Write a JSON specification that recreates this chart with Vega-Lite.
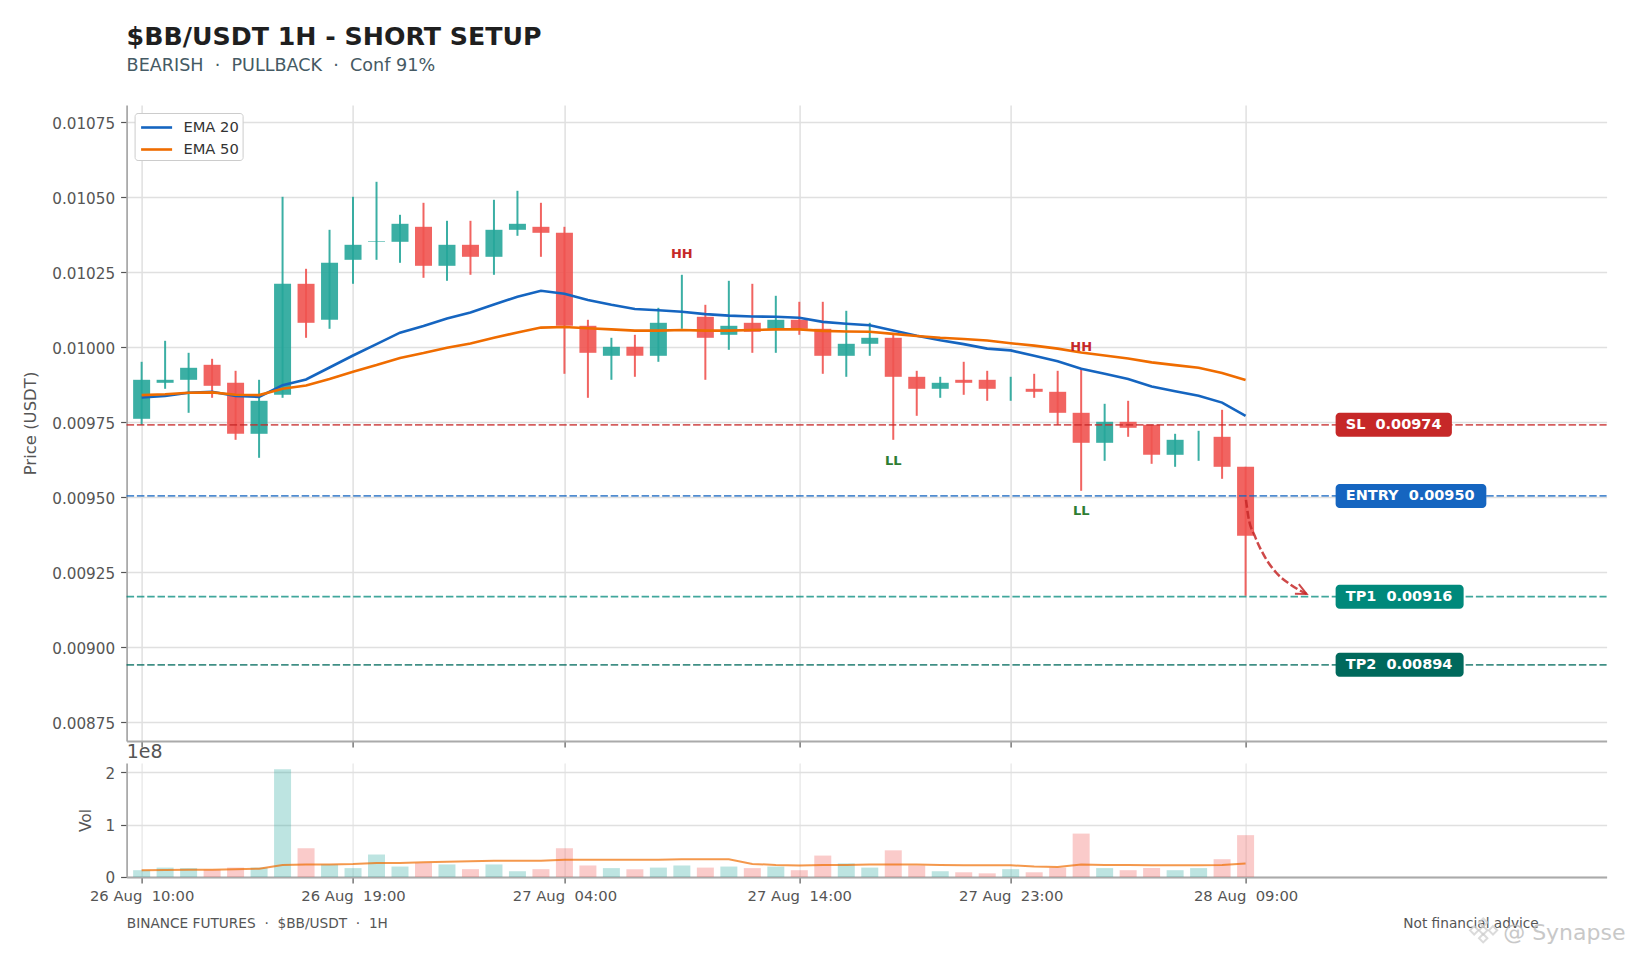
{"$schema":"https://vega.github.io/schema/vega-lite/v6.json","background":"white","padding":{"left":22.6,"top":25,"right":20,"bottom":4},"spacing":22,"bounds":"flush","title":{"text":"$BB/USDT 1H - SHORT SETUP","subtitle":"BEARISH \u00a0·\u00a0 PULLBACK \u00a0·\u00a0 Conf 91%","anchor":"start","frame":"group","font":"DejaVu Sans","fontSize":25.3,"fontWeight":"bold","color":"#1f1f1f","subtitleFont":"DejaVu Sans","subtitleFontSize":17.6,"subtitleColor":"#455a64","subtitlePadding":7,"offset":30},"config":{"font":"DejaVu Sans","view":{"stroke":null},"axis":{"gridColor":"#e0e0e0","gridWidth":1.5,"domainColor":"#aaaaaa","domainWidth":1.8,"tickColor":"#555555","tickSize":6,"tickWidth":1.2,"labelColor":"#555555","titleColor":"#555555","labelFontSize":14.8,"titleFontWeight":"normal"}},"datasets":{"c":[{"t":"2025-08-26T10:00:00Z","open":0.00976,"high":0.00995,"low":0.00974,"close":0.00989,"vol":13000000,"ema20":0.009831,"ema50":0.009839,"volma":13000000,"dir":"up"},{"t":"2025-08-26T11:00:00Z","open":0.00988,"high":0.01002,"low":0.00986,"close":0.00989,"vol":18000000,"ema20":0.009836,"ema50":0.009842,"volma":13500000,"dir":"up"},{"t":"2025-08-26T12:00:00Z","open":0.00989,"high":0.00998,"low":0.00978,"close":0.00993,"vol":17000000,"ema20":0.009847,"ema50":0.009847,"volma":14000000,"dir":"up"},{"t":"2025-08-26T13:00:00Z","open":0.00994,"high":0.00996,"low":0.00983,"close":0.00987,"vol":14000000,"ema20":0.00985,"ema50":0.009848,"volma":14000000,"dir":"down"},{"t":"2025-08-26T14:00:00Z","open":0.00988,"high":0.00992,"low":0.00969,"close":0.00971,"vol":18000000,"ema20":0.009836,"ema50":0.00984,"volma":15000000,"dir":"down"},{"t":"2025-08-26T15:00:00Z","open":0.00971,"high":0.00989,"low":0.00963,"close":0.00982,"vol":18000000,"ema20":0.009833,"ema50":0.009839,"volma":16000000,"dir":"up"},{"t":"2025-08-26T16:00:00Z","open":0.00984,"high":0.0105,"low":0.00983,"close":0.01021,"vol":206000000,"ema20":0.009872,"ema50":0.00986,"volma":23000000,"dir":"up"},{"t":"2025-08-26T17:00:00Z","open":0.01021,"high":0.01026,"low":0.01003,"close":0.01008,"vol":55000000,"ema20":0.009891,"ema50":0.009871,"volma":24000000,"dir":"down"},{"t":"2025-08-26T18:00:00Z","open":0.01009,"high":0.01039,"low":0.01006,"close":0.01028,"vol":24000000,"ema20":0.009931,"ema50":0.009893,"volma":24000000,"dir":"up"},{"t":"2025-08-26T19:00:00Z","open":0.01029,"high":0.0105,"low":0.01021,"close":0.01034,"vol":17000000,"ema20":0.009971,"ema50":0.009917,"volma":25000000,"dir":"up"},{"t":"2025-08-26T20:00:00Z","open":0.01035,"high":0.01055,"low":0.01029,"close":0.010352,"vol":43000000,"ema20":0.010009,"ema50":0.009939,"volma":27000000,"dir":"up"},{"t":"2025-08-26T21:00:00Z","open":0.01035,"high":0.01044,"low":0.01028,"close":0.01041,"vol":20000000,"ema20":0.010047,"ema50":0.009963,"volma":27000000,"dir":"up"},{"t":"2025-08-26T22:00:00Z","open":0.0104,"high":0.01048,"low":0.01023,"close":0.01027,"vol":27000000,"ema20":0.010069,"ema50":0.009979,"volma":28000000,"dir":"down"},{"t":"2025-08-26T23:00:00Z","open":0.01027,"high":0.01042,"low":0.01022,"close":0.01034,"vol":24000000,"ema20":0.010094,"ema50":0.009997,"volma":29000000,"dir":"up"},{"t":"2025-08-27T00:00:00Z","open":0.01034,"high":0.01042,"low":0.01024,"close":0.0103,"vol":15000000,"ema20":0.010114,"ema50":0.010011,"volma":30000000,"dir":"down"},{"t":"2025-08-27T01:00:00Z","open":0.0103,"high":0.01049,"low":0.01024,"close":0.01039,"vol":24000000,"ema20":0.010141,"ema50":0.01003,"volma":31000000,"dir":"up"},{"t":"2025-08-27T02:00:00Z","open":0.01039,"high":0.01052,"low":0.01037,"close":0.01041,"vol":11000000,"ema20":0.010167,"ema50":0.010048,"volma":31000000,"dir":"up"},{"t":"2025-08-27T03:00:00Z","open":0.0104,"high":0.01048,"low":0.0103,"close":0.01038,"vol":15000000,"ema20":0.010187,"ema50":0.010064,"volma":31000000,"dir":"down"},{"t":"2025-08-27T04:00:00Z","open":0.01038,"high":0.0104,"low":0.00991,"close":0.01007,"vol":55000000,"ema20":0.010177,"ema50":0.010066,"volma":33000000,"dir":"down"},{"t":"2025-08-27T05:00:00Z","open":0.01007,"high":0.01009,"low":0.00983,"close":0.00998,"vol":22000000,"ema20":0.010156,"ema50":0.010062,"volma":33000000,"dir":"down"},{"t":"2025-08-27T06:00:00Z","open":0.00997,"high":0.01003,"low":0.00989,"close":0.01,"vol":17000000,"ema20":0.01014,"ema50":0.010058,"volma":33000000,"dir":"up"},{"t":"2025-08-27T07:00:00Z","open":0.01,"high":0.01004,"low":0.0099,"close":0.00997,"vol":15000000,"ema20":0.010126,"ema50":0.010054,"volma":33000000,"dir":"down"},{"t":"2025-08-27T08:00:00Z","open":0.00997,"high":0.01013,"low":0.00995,"close":0.01008,"vol":18000000,"ema20":0.010122,"ema50":0.010054,"volma":33000000,"dir":"up"},{"t":"2025-08-27T09:00:00Z","open":0.01006,"high":0.01024,"low":0.01006,"close":0.01006,"vol":22000000,"ema20":0.010117,"ema50":0.010056,"volma":34000000,"dir":"up"},{"t":"2025-08-27T10:00:00Z","open":0.0101,"high":0.01014,"low":0.00989,"close":0.01003,"vol":18000000,"ema20":0.010109,"ema50":0.010054,"volma":34000000,"dir":"down"},{"t":"2025-08-27T11:00:00Z","open":0.01004,"high":0.01022,"low":0.00999,"close":0.01007,"vol":20000000,"ema20":0.010104,"ema50":0.010054,"volma":34000000,"dir":"up"},{"t":"2025-08-27T12:00:00Z","open":0.01008,"high":0.01021,"low":0.00998,"close":0.01005,"vol":17000000,"ema20":0.010101,"ema50":0.010056,"volma":25000000,"dir":"down"},{"t":"2025-08-27T13:00:00Z","open":0.01006,"high":0.01017,"low":0.00998,"close":0.01009,"vol":20000000,"ema20":0.0101,"ema50":0.010058,"volma":23000000,"dir":"up"},{"t":"2025-08-27T14:00:00Z","open":0.01009,"high":0.01015,"low":0.01004,"close":0.01006,"vol":13000000,"ema20":0.010097,"ema50":0.010058,"volma":22000000,"dir":"down"},{"t":"2025-08-27T15:00:00Z","open":0.01006,"high":0.01015,"low":0.00991,"close":0.00997,"vol":41000000,"ema20":0.010083,"ema50":0.010053,"volma":23000000,"dir":"down"},{"t":"2025-08-27T16:00:00Z","open":0.00997,"high":0.01012,"low":0.0099,"close":0.01001,"vol":26000000,"ema20":0.010077,"ema50":0.010051,"volma":23000000,"dir":"up"},{"t":"2025-08-27T17:00:00Z","open":0.01001,"high":0.01008,"low":0.00997,"close":0.01003,"vol":18000000,"ema20":0.010072,"ema50":0.01005,"volma":24000000,"dir":"up"},{"t":"2025-08-27T18:00:00Z","open":0.01003,"high":0.01004,"low":0.00969,"close":0.0099,"vol":51000000,"ema20":0.010054,"ema50":0.010043,"volma":24000000,"dir":"down"},{"t":"2025-08-27T19:00:00Z","open":0.0099,"high":0.00992,"low":0.00977,"close":0.00986,"vol":22000000,"ema20":0.010037,"ema50":0.010036,"volma":24000000,"dir":"down"},{"t":"2025-08-27T20:00:00Z","open":0.00986,"high":0.0099,"low":0.00983,"close":0.00988,"vol":11000000,"ema20":0.010022,"ema50":0.01003,"volma":23000000,"dir":"up"},{"t":"2025-08-27T21:00:00Z","open":0.00989,"high":0.00995,"low":0.00984,"close":0.00988,"vol":9000000,"ema20":0.010009,"ema50":0.010026,"volma":22500000,"dir":"down"},{"t":"2025-08-27T22:00:00Z","open":0.00989,"high":0.00992,"low":0.00982,"close":0.00986,"vol":7000000,"ema20":0.009994,"ema50":0.010021,"volma":22500000,"dir":"down"},{"t":"2025-08-27T23:00:00Z","open":0.00985,"high":0.0099,"low":0.00982,"close":0.00985,"vol":15000000,"ema20":0.009988,"ema50":0.010012,"volma":22500000,"dir":"up"},{"t":"2025-08-28T00:00:00Z","open":0.00986,"high":0.00991,"low":0.00983,"close":0.00985,"vol":9000000,"ema20":0.00997,"ema50":0.010004,"volma":20000000,"dir":"down"},{"t":"2025-08-28T01:00:00Z","open":0.00985,"high":0.00992,"low":0.00974,"close":0.00978,"vol":18000000,"ema20":0.009952,"ema50":0.009994,"volma":19000000,"dir":"down"},{"t":"2025-08-28T02:00:00Z","open":0.00978,"high":0.00993,"low":0.00952,"close":0.00968,"vol":83000000,"ema20":0.009927,"ema50":0.009981,"volma":24000000,"dir":"down"},{"t":"2025-08-28T03:00:00Z","open":0.00968,"high":0.00981,"low":0.00962,"close":0.00975,"vol":17000000,"ema20":0.00991,"ema50":0.009971,"volma":23000000,"dir":"up"},{"t":"2025-08-28T04:00:00Z","open":0.00975,"high":0.00982,"low":0.0097,"close":0.00973,"vol":13000000,"ema20":0.009893,"ema50":0.009961,"volma":23000000,"dir":"down"},{"t":"2025-08-28T05:00:00Z","open":0.00974,"high":0.00974,"low":0.00961,"close":0.00964,"vol":17000000,"ema20":0.009868,"ema50":0.009948,"volma":22500000,"dir":"down"},{"t":"2025-08-28T06:00:00Z","open":0.00964,"high":0.00971,"low":0.0096,"close":0.00969,"vol":13000000,"ema20":0.009852,"ema50":0.009939,"volma":22500000,"dir":"up"},{"t":"2025-08-28T07:00:00Z","open":0.00966,"high":0.00972,"low":0.00962,"close":0.00966,"vol":17000000,"ema20":0.009837,"ema50":0.00993,"volma":22500000,"dir":"up"},{"t":"2025-08-28T08:00:00Z","open":0.0097,"high":0.00979,"low":0.00956,"close":0.0096,"vol":34000000,"ema20":0.009814,"ema50":0.009913,"volma":23000000,"dir":"down"},{"t":"2025-08-28T09:00:00Z","open":0.0096,"high":0.0096,"low":0.00917,"close":0.00937,"vol":80000000,"ema20":0.00977,"ema50":0.009889,"volma":26000000,"dir":"down"}],"levels":[{"name":"SL","price":0.00974,"text":"SL \u00a00.00974","t0":"2025-08-28T12:50:00Z","t1":"2025-08-28T17:47:00Z","tx":"2025-08-28T13:16:00Z"},{"name":"ENTRY","price":0.009503,"text":"ENTRY \u00a00.00950","t0":"2025-08-28T12:50:00Z","t1":"2025-08-28T19:15:00Z","tx":"2025-08-28T13:16:00Z"},{"name":"TP1","price":0.009167,"text":"TP1 \u00a00.00916","t0":"2025-08-28T12:50:00Z","t1":"2025-08-28T18:17:00Z","tx":"2025-08-28T13:16:00Z"},{"name":"TP2","price":0.00894,"text":"TP2 \u00a00.00894","t0":"2025-08-28T12:50:00Z","t1":"2025-08-28T18:17:00Z","tx":"2025-08-28T13:16:00Z"}],"swings":[{"t":"2025-08-27T09:00:00Z","price":0.010309,"name":"HH"},{"t":"2025-08-27T18:00:00Z","price":0.009621,"name":"LL"},{"t":"2025-08-28T02:00:00Z","price":0.01,"name":"HH"},{"t":"2025-08-28T02:00:00Z","price":0.009452,"name":"LL"}],"curve":[{"t":"2025-08-28T09:01:00Z","price":0.00949},{"t":"2025-08-28T09:07:00Z","price":0.009434},{"t":"2025-08-28T09:24:00Z","price":0.009368},{"t":"2025-08-28T09:46:00Z","price":0.009307},{"t":"2025-08-28T10:19:00Z","price":0.009246},{"t":"2025-08-28T10:53:00Z","price":0.009209},{"t":"2025-08-28T11:36:00Z","price":0.009176}],"head":[{"n":1,"t":"2025-08-28T11:06:00Z","price":0.009177},{"n":2,"t":"2025-08-28T11:36:00Z","price":0.009176},{"n":3,"t":"2025-08-28T11:16:00Z","price":0.009209}]},"vconcat":[{"width":1480,"height":636,"encoding":{"x":{"field":"t","type":"temporal","scale":{"type":"utc","padding":0,"domain":[1756200096000,1756426932000]},"axis":{"values":[1756202400000,1756234800000,1756267200000,1756303200000,1756335600000,1756371600000],"labels":false,"title":null,"grid":true,"domain":true}}},"layer":[{"data":{"name":"c"},"mark":{"type":"rule","strokeWidth":2,"opacity":0.9},"encoding":{"y":{"field":"high","type":"quantitative","scale":{"domain":[0.008686,0.010806],"nice":false,"zero":false},"axis":{"values":[0.00875,0.009,0.00925,0.0095,0.00975,0.01,0.01025,0.0105,0.01075],"format":".5f","title":"Price (USDT)","titleFontSize":16.5,"titlePadding":13,"labelPadding":6,"labelFontSize":15.2,"labelOffset":1.5,"grid":true}},"y2":{"field":"low"},"color":{"field":"dir","type":"nominal","legend":null,"scale":{"domain":["up","down","SL","ENTRY","TP1","TP2","HH","LL"],"range":["#26a69a","#ef5350","#c62828","#1565c0","#00897b","#00695c","#c62828","#2e7d32"]}}}},{"data":{"name":"c"},"mark":{"type":"bar","width":17,"opacity":0.9},"encoding":{"y":{"field":"open","type":"quantitative"},"y2":{"field":"close"},"color":{"field":"dir","type":"nominal","legend":null}}},{"data":{"name":"levels"},"mark":{"type":"rule","strokeWidth":1.7,"strokeDash":[7.5,2.8],"opacity":0.75},"encoding":{"x":{"value":0},"x2":{"value":1480},"y":{"field":"price","type":"quantitative"},"color":{"field":"name","type":"nominal","legend":null}}},{"data":{"name":"c"},"transform":[{"fold":["ema20","ema50"],"as":["series","val"]},{"calculate":"datum.series==='ema20'?'EMA 20':'EMA 50'","as":"name"}],"mark":{"type":"line","strokeWidth":2.6},"encoding":{"y":{"field":"val","type":"quantitative"},"stroke":{"field":"name","type":"nominal","scale":{"domain":["EMA 20","EMA 50"],"range":["#1565c0","#ef6c00"]},"legend":{"orient":"none","legendX":8,"legendY":8,"title":null,"symbolType":"M-0.8,0H2.3","symbolSize":400,"symbolStrokeWidth":2.6,"labelFontSize":14.7,"labelColor":"#333333","labelOffset":22.8,"fillColor":"white","strokeColor":"#cccccc","cornerRadius":3,"padding":3,"rowPadding":3}}}},{"data":{"name":"curve"},"mark":{"type":"line","interpolate":"monotone","color":"#c62828","strokeWidth":2.5,"strokeDash":[8,3],"opacity":0.85},"encoding":{"y":{"field":"price","type":"quantitative"}}},{"data":{"name":"head"},"mark":{"type":"line","color":"#c62828","strokeWidth":2,"opacity":0.85},"encoding":{"y":{"field":"price","type":"quantitative"},"order":{"field":"n","type":"ordinal"}}},{"data":{"name":"swings"},"mark":{"type":"text","fontWeight":"bold","fontSize":13},"encoding":{"y":{"field":"price","type":"quantitative"},"text":{"field":"name"},"color":{"field":"name","type":"nominal","legend":null}}},{"data":{"name":"levels"},"mark":{"type":"rect","height":24,"cornerRadius":4},"encoding":{"x":{"field":"t0","type":"temporal"},"x2":{"field":"t1"},"y":{"field":"price","type":"quantitative"},"color":{"field":"name","type":"nominal","legend":null}}},{"data":{"name":"levels"},"mark":{"type":"text","align":"left","baseline":"middle","color":"white","fontWeight":"bold","fontSize":14.5},"encoding":{"x":{"field":"tx","type":"temporal"},"y":{"field":"price","type":"quantitative"},"text":{"field":"text"}}}]},{"width":1480,"height":114,"encoding":{"x":{"field":"t","type":"temporal","scale":{"type":"utc","padding":0,"domain":[1756200096000,1756426932000]},"axis":{"values":[1756202400000,1756234800000,1756267200000,1756303200000,1756335600000,1756371600000],"format":"%d %b\u00a0 %H:%M","title":null,"grid":true,"gridWidth":1,"labelPadding":6}}},"layer":[{"data":{"name":"c"},"mark":{"type":"bar","width":17,"opacity":0.3},"encoding":{"y":{"field":"vol","type":"quantitative","scale":{"domain":[0,218000000],"nice":false},"axis":{"values":[0,100000000,200000000],"labelExpr":"format(datum.value/100000000,'d')","title":"Vol","titleFontSize":15.5,"titlePadding":11,"labelPadding":6,"labelFontSize":15.2,"labelOffset":1,"grid":true}},"color":{"field":"dir","type":"nominal","legend":null,"scale":{"domain":["up","down"],"range":["#26a69a","#ef5350"]}}}},{"data":{"name":"c"},"mark":{"type":"line","color":"#ef6c00","strokeWidth":2,"opacity":0.7},"encoding":{"y":{"field":"volma","type":"quantitative"}}},{"data":{"values":[{"t":"2025-08-26T09:22:00Z","vol":239000000,"label":"1e8"}]},"mark":{"type":"text","align":"left","baseline":"middle","fontSize":19,"color":"#555555"},"encoding":{"y":{"field":"vol","type":"quantitative"},"text":{"field":"label"}}},{"data":{"values":[{"t":"2025-08-26T09:22:00Z","vol":-90400000,"label":"BINANCE FUTURES \u00a0·\u00a0 $BB/USDT \u00a0·\u00a0 1H"}]},"mark":{"type":"text","align":"left","baseline":"middle","fontSize":13.7,"color":"#555555"},"encoding":{"y":{"field":"vol","type":"quantitative"},"text":{"field":"label"}}},{"data":{"values":[{"t":"2025-08-28T21:29:00Z","vol":-90400000,"label":"Not financial advice"}]},"mark":{"type":"text","align":"right","baseline":"middle","fontSize":13.7,"color":"#555555"},"encoding":{"y":{"field":"vol","type":"quantitative"},"text":{"field":"label"}}},{"data":{"values":[{"t":"2025-08-28T18:44:00Z","vol":-102000000},{"t":"2025-08-28T19:07:00Z","vol":-87000000},{"t":"2025-08-28T19:07:00Z","vol":-102000000},{"t":"2025-08-28T19:07:00Z","vol":-117000000},{"t":"2025-08-28T19:32:00Z","vol":-102000000}]},"mark":{"type":"point","shape":"diamond","size":70,"filled":false,"strokeWidth":2,"color":"#cccccc","opacity":0.7},"encoding":{"y":{"field":"vol","type":"quantitative"}}},{"data":{"values":[{"t":"2025-08-28T19:58:00Z","vol":-107600000,"label":"@ Synapse"}]},"mark":{"type":"text","align":"left","baseline":"middle","fontSize":22,"color":"#bbbbbb","opacity":0.8},"encoding":{"y":{"field":"vol","type":"quantitative"},"text":{"field":"label"}}}]}]}
